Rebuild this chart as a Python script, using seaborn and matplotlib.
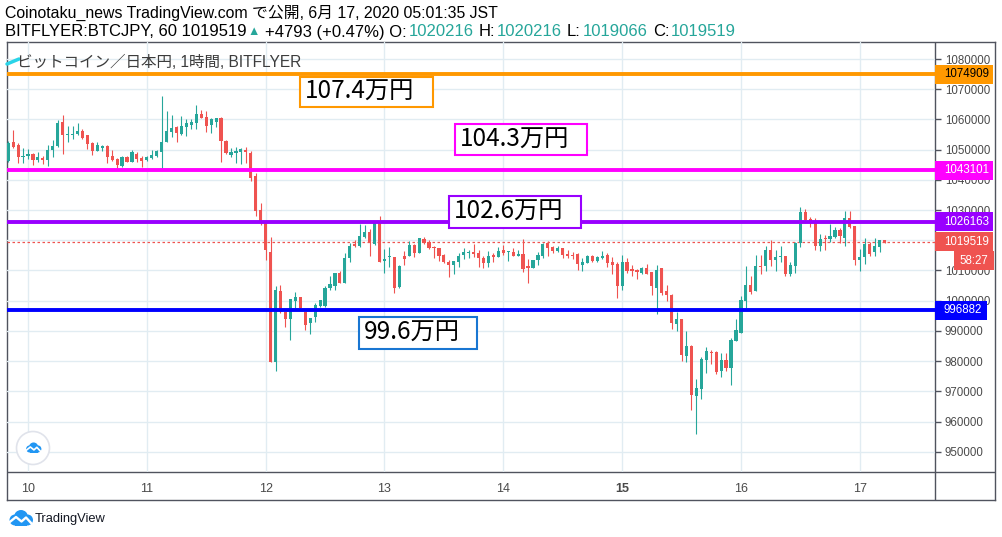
import matplotlib.pyplot as plt
import matplotlib.patches as mpatches
import matplotlib.transforms as mtransforms
from matplotlib.lines import Line2D
import numpy as np
import pandas as pd
import seaborn as sns

# BTC/JPY hourly candles on bitFlyer, 9 Jun 20:00 -> 17 Jun 05:00 JST (thousand yen)
opens_k = [
    1046.2, 1052.5, 1051.5, 1047.7, 1047.9, 1048.6, 1046.6, 1047.2, 1046.6, 1049.9,
    1051.2, 1059.2, 1055.0, 1055.0, 1055.2, 1056.2, 1054.8, 1052.3, 1049.6, 1050.7,
    1051.2, 1047.9, 1046.9, 1044.6, 1047.7, 1046.0, 1048.6, 1047.2, 1046.7, 1047.2,
    1047.9, 1049.3, 1052.6, 1055.9, 1057.6, 1055.2, 1057.6, 1058.3, 1058.9, 1061.8,
    1060.7, 1058.3, 1059.3, 1060.5, 1052.9, 1048.3, 1049.0, 1049.2, 1049.9, 1049.0,
    1041.3, 1030.0, 1025.6, 1016.2, 979.6, 1003.2, 996.4, 993.9, 1000.0, 1001.3,
    996.4, 992.5, 994.7, 998.4, 998.4, 1004.1, 1004.9, 1009.3, 1005.7, 1014.2,
    1018.8, 1018.1, 1021.0, 1022.8, 1018.7, 1025.6, 1013.1, 1014.4, 1014.6, 1004.4,
    1014.7, 1014.9, 1018.4, 1015.9, 1020.4, 1019.5, 1017.7, 1017.4, 1015.1, 1012.9,
    1011.8, 1012.9, 1015.1, 1015.9, 1016.2, 1015.8, 1014.2, 1012.6, 1015.0, 1014.6,
    1016.8, 1016.0, 1016.0, 1014.9, 1015.5, 1011.5, 1010.9, 1013.5, 1014.8, 1019.0,
    1017.9, 1016.4, 1017.3, 1015.5, 1015.1, 1015.5, 1011.8, 1012.6, 1014.8, 1013.2,
    1014.2, 1015.1, 1012.9, 1012.1, 1005.0, 1012.7, 1010.5, 1010.2, 1009.2, 1010.8,
    1009.5, 1004.3, 1010.8, 1003.2, 1001.9, 992.3, 993.9, 981.7, 985.0, 968.5,
    970.8, 980.4, 982.9, 982.9, 976.8, 980.4, 977.8, 986.8, 989.4, 1000.0,
    1005.2, 1003.3, 1011.5, 1011.5, 1016.8, 1013.5, 1014.6, 1014.8, 1008.8, 1011.5,
    1019.0, 1029.5, 1027.0, 1026.4, 1018.2, 1020.6, 1020.4, 1021.0, 1023.4, 1020.9,
    1027.5, 1024.7, 1013.5, 1014.6, 1018.8, 1016.2, 1017.9, 1020.216,
]
highs_k = [
    1052.9, 1056.5, 1052.3, 1050.4, 1050.2, 1049.0, 1049.2, 1047.9, 1051.5, 1053.2,
    1059.8, 1061.5, 1057.8, 1057.8, 1058.8, 1056.8, 1054.8, 1052.6, 1052.6, 1051.5,
    1051.5, 1049.9, 1047.3, 1047.9, 1048.0, 1049.9, 1049.3, 1048.0, 1047.9, 1049.9,
    1049.9, 1067.9, 1062.9, 1061.5, 1057.8, 1061.1, 1060.0, 1060.0, 1064.8, 1063.1,
    1062.9, 1060.4, 1060.5, 1060.9, 1053.2, 1050.4, 1051.0, 1050.4, 1051.0, 1049.7,
    1042.4, 1032.4, 1026.2, 1021.2, 1004.9, 1005.2, 996.4, 1000.6, 1002.8, 1001.3,
    996.4, 994.4, 999.1, 1000.2, 1004.9, 1008.3, 1009.3, 1009.8, 1015.7, 1019.0,
    1020.1, 1025.3, 1025.1, 1023.7, 1026.2, 1028.0, 1017.0, 1017.7, 1014.6, 1011.8,
    1016.5, 1019.8, 1018.7, 1020.9, 1021.0, 1020.1, 1018.1, 1017.4, 1015.3, 1013.5,
    1013.1, 1015.7, 1017.3, 1016.8, 1018.8, 1016.8, 1014.8, 1016.4, 1015.7, 1017.7,
    1018.4, 1016.5, 1017.3, 1016.8, 1020.4, 1013.8, 1013.5, 1016.0, 1019.0, 1019.8,
    1018.2, 1018.1, 1017.5, 1016.8, 1016.2, 1015.9, 1014.2, 1015.1, 1015.1, 1014.8,
    1016.5, 1015.7, 1014.6, 1012.9, 1015.1, 1014.0, 1011.8, 1010.5, 1011.0, 1012.2,
    1009.5, 1011.8, 1010.8, 1005.2, 1002.1, 996.4, 993.9, 990.0, 985.3, 974.0,
    981.5, 984.6, 983.7, 983.4, 982.6, 982.6, 987.8, 993.8, 1001.6, 1011.5,
    1008.2, 1015.1, 1015.1, 1018.2, 1020.1, 1016.8, 1018.1, 1014.8, 1012.9, 1019.5,
    1031.1, 1030.4, 1027.8, 1027.3, 1022.1, 1021.7, 1025.3, 1024.5, 1024.0, 1029.7,
    1029.7, 1024.7, 1017.0, 1020.9, 1019.5, 1020.6, 1020.1, 1020.216,
]
lows_k = [
    1045.9, 1050.7, 1045.7, 1045.7, 1047.0, 1045.0, 1045.9, 1045.3, 1044.6, 1047.7,
    1051.0, 1048.6, 1052.5, 1053.4, 1054.8, 1053.4, 1050.2, 1048.2, 1049.6, 1049.6,
    1045.7, 1046.4, 1043.6, 1044.4, 1045.9, 1045.8, 1046.0, 1044.4, 1046.4, 1046.8,
    1047.7, 1043.6, 1052.6, 1054.3, 1052.6, 1054.8, 1054.6, 1056.7, 1056.7, 1060.4,
    1055.8, 1055.6, 1057.6, 1046.0, 1048.5, 1047.7, 1045.5, 1045.3, 1045.7, 1039.6,
    1028.0, 1025.1, 1013.5, 979.6, 976.8, 995.8, 991.4, 987.0, 997.5, 997.1,
    990.3, 988.9, 993.1, 998.0, 998.0, 1003.5, 1003.5, 1005.7, 1005.7, 1012.9,
    1017.9, 1017.9, 1020.6, 1014.8, 1018.4, 1012.9, 1009.1, 1011.3, 1002.7, 1004.1,
    1011.8, 1014.8, 1014.6, 1015.7, 1018.8, 1017.0, 1014.2, 1013.1, 1012.4, 1007.9,
    1008.8, 1011.3, 1013.8, 1014.0, 1014.6, 1011.3, 1010.7, 1011.2, 1012.9, 1014.3,
    1015.1, 1013.3, 1014.9, 1014.8, 1009.6, 1006.0, 1010.7, 1011.8, 1014.0, 1014.8,
    1015.7, 1016.2, 1014.2, 1014.0, 1013.8, 1010.2, 1009.9, 1012.4, 1012.9, 1012.9,
    1013.8, 1011.0, 1008.8, 1001.0, 1003.5, 1009.1, 1008.3, 1007.2, 1008.8, 1009.0,
    1001.9, 995.6, 1001.9, 999.9, 990.6, 990.1, 980.0, 979.8, 963.8, 955.9,
    967.5, 976.2, 979.1, 975.7, 974.9, 976.8, 972.1, 986.8, 989.4, 997.5,
    1002.2, 1003.3, 1008.8, 1009.9, 1011.5, 1009.9, 1012.9, 1008.2, 1008.3, 1009.3,
    1017.9, 1025.6, 1024.3, 1016.8, 1016.6, 1016.8, 1019.5, 1020.6, 1019.0, 1018.1,
    1024.0, 1011.8, 1009.8, 1012.1, 1014.8, 1014.8, 1016.2, 1019.066,
]
closes_k = [
    1052.3, 1050.9, 1047.7, 1047.9, 1048.6, 1046.6, 1047.5, 1046.6, 1049.9, 1051.2,
    1058.9, 1054.8, 1055.2, 1055.2, 1056.2, 1054.0, 1051.9, 1049.6, 1051.4, 1051.2,
    1047.7, 1046.6, 1044.9, 1047.5, 1046.0, 1049.1, 1046.9, 1046.4, 1047.6, 1048.2,
    1049.6, 1052.6, 1056.2, 1057.3, 1055.4, 1057.8, 1058.7, 1059.3, 1061.8, 1060.6,
    1057.9, 1060.0, 1060.5, 1052.9, 1049.0, 1049.2, 1049.6, 1050.1, 1049.3, 1040.7,
    1029.7, 1025.6, 1016.8, 979.6, 1003.5, 996.4, 993.9, 1000.6, 1001.1, 997.5,
    991.9, 994.4, 998.6, 1000.2, 1004.2, 1005.4, 1009.3, 1006.0, 1014.2, 1018.1,
    1018.1, 1021.4, 1022.8, 1019.0, 1025.6, 1012.9, 1013.8, 1014.6, 1004.1, 1011.6,
    1013.8, 1018.4, 1015.9, 1020.6, 1019.0, 1017.3, 1017.3, 1014.9, 1012.9, 1011.8,
    1013.1, 1014.9, 1016.2, 1016.1, 1015.3, 1014.0, 1012.6, 1014.9, 1014.6, 1016.6,
    1015.9, 1016.2, 1014.9, 1015.5, 1010.5, 1010.9, 1013.5, 1015.1, 1018.8, 1017.5,
    1016.6, 1017.3, 1015.1, 1014.8, 1014.9, 1012.0, 1012.9, 1014.9, 1013.2, 1014.6,
    1014.9, 1012.6, 1011.8, 1004.9, 1012.7, 1009.8, 1009.9, 1009.4, 1010.8, 1009.0,
    1005.0, 1010.2, 1002.4, 1001.9, 992.5, 993.9, 982.0, 985.0, 968.8, 971.0,
    980.7, 983.4, 982.7, 976.3, 980.4, 977.8, 987.0, 990.3, 1000.2, 1005.2,
    1003.0, 1011.5, 1011.3, 1016.8, 1013.5, 1014.6, 1014.8, 1008.8, 1011.8, 1019.2,
    1029.5, 1026.7, 1026.4, 1018.2, 1020.4, 1020.4, 1021.4, 1023.4, 1021.4, 1027.5,
    1024.5, 1013.5, 1014.5, 1018.8, 1015.5, 1018.1, 1020.1, 1019.519,
]

day_labels = ['10', '11', '12', '13', '14', '15', '16', '17']
day_first_candle = [4, 28, 52, 76, 100, 124, 148, 172]
price_ticks = list(range(950000, 1080001, 10000))

level_prices = [1074909, 1043101, 1026163, 996882]
level_colours = ['#FF9800', '#FF00FF', '#9900FF', '#0000FF']
level_tag_text = ['#000000', '#FFFFFF', '#FFFFFF', '#FFFFFF']
note_texts = ['107.4万円', '104.3万円', '102.6万円', '99.6万円']
note_edges = ['#FF9800', '#FF00FF', '#9900FF', '#1976D2']
last_price = 1019519
countdown = '58:27'

# ------------------------------------------------------------------------------
sns.set_theme(style='white')
plt.rcParams['font.family'] = ['Liberation Sans', 'Noto Sans CJK JP', 'DejaVu Sans']

UP = '#26A69A'
DOWN = '#EF5350'
AXIS = '#50535E'
TEXT = '#4A4A4A'
GRID = '#E1ECF2'
W, H = 1002, 537

df = pd.DataFrame({
    'open': np.array(opens_k) * 1000,
    'high': np.array(highs_k) * 1000,
    'low': np.array(lows_k) * 1000,
    'close': np.array(closes_k) * 1000,
})
df['x'] = np.arange(len(df))
df['colour'] = np.where(df['close'] >= df['open'], UP, DOWN)

fig = plt.figure(figsize=(W / 100, H / 100), dpi=100)
fig.patch.set_facecolor('white')


def fig_rect(x0, y0, x1, y1):
    # pixel box measured from the top-left corner -> [left, bottom, width, height]
    return [x0 / W, 1 - y1 / H, (x1 - x0) / W, (y1 - y0) / H]


# outer frame with the price-scale and time-scale separators
frame = fig.add_axes(fig_rect(7, 42, 995, 500))
frame.set_xticks([])
frame.set_yticks([])
for sp in frame.spines.values():
    sp.set_color(AXIS)
    sp.set_linewidth(1)
frame.axvline((935 - 7) / 988, color=AXIS, lw=1)
frame.axhline((500 - 472) / 458, color=AXIS, lw=1)

ax = fig.add_axes(fig_rect(7, 42, 935, 472))
ax.set_facecolor('none')
for sp in ax.spines.values():
    sp.set_visible(False)

# candles
ax.vlines(df['x'], df['low'], df['high'], colors=df['colour'], linewidth=0.8, zorder=3)
body_low = np.minimum(df['open'], df['close'])
body_h = (df['close'] - df['open']).abs().clip(lower=330)
ax.bar(df['x'], body_h, bottom=body_low, width=0.64, color=df['colour'], linewidth=0, zorder=4)

# horizontal levels
for p, c in zip(level_prices, level_colours):
    ax.axhline(p, color=c, lw=2.8, zorder=5)
ax.axhline(last_price, color=DOWN, lw=0.9, ls=(0, (2, 2)), zorder=2)

ax.set_xlim(-0.24, 187.2)
ax.set_ylim(943300, 1085630)
ax.set_xticks(day_first_candle)
ax.set_xticklabels(day_labels)
ax.set_yticks(price_ticks)
ax.set_yticklabels([str(p) for p in price_ticks])
ax.yaxis.tick_right()
ax.tick_params(axis='y', direction='out', length=4, width=1, pad=3, labelsize=8.3,
               color=AXIS, labelcolor=TEXT)
ax.tick_params(axis='x', direction='out', length=4, width=1, pad=4, labelsize=9,
               color=AXIS, labelcolor=TEXT)
ax.get_xticklabels()[day_labels.index('15')].set_fontweight('bold')
ax.grid(True, color=GRID, lw=1)
ax.set_axisbelow(True)

# price-scale tags (they sit over the tick labels, as on the original)
trans = mtransforms.blended_transform_factory(ax.transAxes, ax.transData)
half = 9.5 * 331
for p, c, tc in zip(level_prices + [last_price], level_colours + [DOWN], level_tag_text + ['#FFFFFF']):
    width = 58 if p >= 1000000 else 52
    ax.add_patch(mpatches.Rectangle((1.0, p - half), width / 928, 2 * half, transform=trans,
                                    facecolor=c, edgecolor='none', clip_on=False, zorder=8))
    ax.text(1.0 + 9 / 928, p, str(p), transform=trans, color=tc, fontsize=8.3,
            va='center', ha='left', clip_on=False, zorder=9)
ax.add_patch(mpatches.Rectangle((1.0 + 19 / 928, last_price - 3 * half), 40 / 928, 2 * half,
                                transform=trans, facecolor=DOWN, edgecolor='none',
                                clip_on=False, zorder=8))
ax.text(1.0 + 39 / 928, last_price - 2 * half, countdown, transform=trans, color='white',
        fontsize=8.3, va='center', ha='center', clip_on=False, zorder=9)

# text drawings on the chart
note_boxes = [(300, 77, 433, 107), (455, 124, 587, 155), (449, 196, 581, 228), (359, 317, 477, 349)]
for txt, ec, (x0, y0, x1, y1) in zip(note_texts, note_edges, note_boxes):
    l, b, w, h = fig_rect(x0, y0, x1, y1)
    fig.add_artist(mpatches.Rectangle((l, b), w, h, transform=fig.transFigure,
                                      facecolor='white', edgecolor=ec, lw=1.5, zorder=5))
    fig.text(l + 5 / W, b + h / 2, txt, fontsize=17.5, color='black', ha='left', va='center',
             family=['Noto Sans CJK JP', 'DejaVu Sans'], zorder=6)

# headers
renderer = fig.canvas.get_renderer()


def text_run(x_px, y_px, pieces, size):
    x = x_px
    for s, c, gap, fs in pieces:
        t = fig.text(x / W, 1 - y_px / H, s, color=c, fontsize=fs or size, va='center', ha='left')
        x = t.get_window_extent(renderer).x1 + gap


text_run(5, 13, [('Coinotaku_news TradingView.com で公開, 6月 17, 2020 05:01:35 JST', 'black', 0, None)], 11.4)
text_run(5, 32, [
    ('BITFLYER:BTCJPY, 60 1019519', 'black', 1, None),
    ('▲', UP, 5, 9),
    ('+4793 (+0.47%) O:', 'black', 2, None),
    ('1020216', UP, 5, None),
    ('H:', 'black', 2, None),
    ('1020216', UP, 5, None),
    ('L:', 'black', 2, None),
    ('1019066', UP, 5, None),
    ('C:', 'black', 2, None),
    ('1019519', UP, 0, None),
], 12)
fig.add_artist(Line2D([7 / W, 19 / W], [1 - 64 / H, 1 - 59 / H], color='#29D4E8', lw=2.5, zorder=4))
fig.text(17 / W, 1 - 62 / H, 'ビットコイン／日本円, 1時間, BITFLYER', fontsize=11.2, color='#3C3C3C',
         va='center', ha='left', zorder=5)


def draw_cloud(axc, ox, oy, s):
    blue = '#2196F3'
    for cx, cy, r in [(8, 7, 5.5), (14, 10, 7), (20.5, 7, 5.5)]:
        axc.add_patch(mpatches.Circle((ox + cx * s, oy + cy * s), r * s, color=blue, lw=0))
    axc.add_patch(mpatches.Rectangle((ox + 8 * s, oy + 1.5 * s), 12.5 * s, 6 * s, color=blue, lw=0))
    zx = [1.5, 9, 14.5, 19, 25]
    zy = [4, 10, 5.5, 9.5, 3]
    axc.plot([ox + v * s for v in zx], [oy + v * s for v in zy], color='white', lw=1.4 * s + 0.3,
             solid_capstyle='round')


# TradingView marks
logo = fig.add_axes(fig_rect(7, 510, 33, 527))
logo.set_xlim(0, 26)
logo.set_ylim(0, 17)
logo.axis('off')
draw_cloud(logo, 0, 0, 1)
fig.text(35 / W, 1 - 519 / H, 'TradingView', fontsize=9.3, color='#131722', va='center', ha='left')

badge = fig.add_axes(fig_rect(15, 430, 51, 466))
badge.set_xlim(0, 36)
badge.set_ylim(0, 36)
badge.axis('off')
badge.add_patch(mpatches.Circle((18, 18), 16.5, facecolor='white', edgecolor='#E0E3EB', lw=1.2))
draw_cloud(badge, 9.5, 12.5, 0.65)

fig.savefig('out.png', dpi=100)
